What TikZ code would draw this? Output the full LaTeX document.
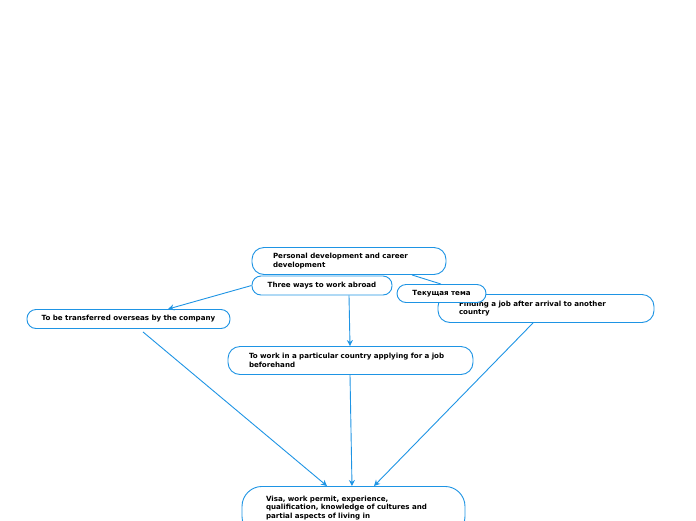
\documentclass[tikz,border=0pt]{standalone}
\usepackage{fontspec}
\setmainfont{DejaVu Sans}
\usetikzlibrary{arrows.meta}
\definecolor{mmblue}{RGB}{30,148,228}
\tikzset{
  topic/.style={draw=mmblue, fill=white, line width=0.9pt, rounded corners=#1,
    font=\fontsize{7.1pt}{8.4pt}\selectfont\bfseries, inner ysep=0pt, anchor=center},
  topic/.default=9pt,
  conn/.style={draw=mmblue, line width=0.9pt},
  arr/.style={conn, -{Stealth[length=6pt,width=6pt]}}
}
\begin{document}
\begin{tikzpicture}[x=1pt,y=-1pt]
\useasboundingbox (0,0) rectangle (696,520);
\node[topic=12pt, minimum width=194pt, minimum height=27pt, inner xsep=21pt, text width=152pt, align=left] (pers) at (349,261) {Personal development and career\\development};
\node[topic, minimum width=140pt, minimum height=19pt, inner xsep=4pt, text width=132pt, align=center] (three) at (322,285.5) {Three ways to work abroad};
\node[topic=12pt, minimum width=216pt, minimum height=28pt, inner xsep=21pt, text width=174pt, align=left] (find) at (546,308.5) {Finding a job after arrival to another\\country};
\node[topic, minimum width=89pt, minimum height=18pt, inner xsep=4pt, text width=81pt, align=center] (tek) at (441.5,293.5) {Текущая тема};
\node[topic, minimum width=203pt, minimum height=19pt, inner xsep=4pt, text width=195pt, align=center] (trans) at (128.5,319) {To be transferred overseas by the company};
\node[topic=12pt, minimum width=245pt, minimum height=28pt, inner xsep=21pt, text width=203pt, align=left] (work) at (350.5,360.5) {To work in a particular country applying for a job\\beforehand};
\node[topic=20pt, minimum width=223pt, minimum height=50pt, inner xsep=24pt, text width=175pt, align=left, anchor=north] (visa) at (353.5,486) {Visa, work permit, experience,\\qualification, knowledge of cultures and\\partial aspects of living in\\\phantom{x}};
\draw[conn] ([xshift=63pt]pers.south) -- ([xshift=-0.5pt]tek.north);
\draw[arr] (three.west) -- ([xshift=39.5pt]trans.north);
\draw[arr] ([xshift=27pt]three.south) -- ([xshift=-0.5pt]work.north);
\draw[arr] ([xshift=14.5pt,yshift=-3pt]trans.south) -- ([xshift=-26.5pt]visa.north);
\draw[arr] ([xshift=-0.5pt]work.south) -- ([xshift=-1.5pt]visa.north);
\draw[arr] ([xshift=-13pt]find.south) -- ([xshift=20.5pt]visa.north);
\end{tikzpicture}
\end{document}
